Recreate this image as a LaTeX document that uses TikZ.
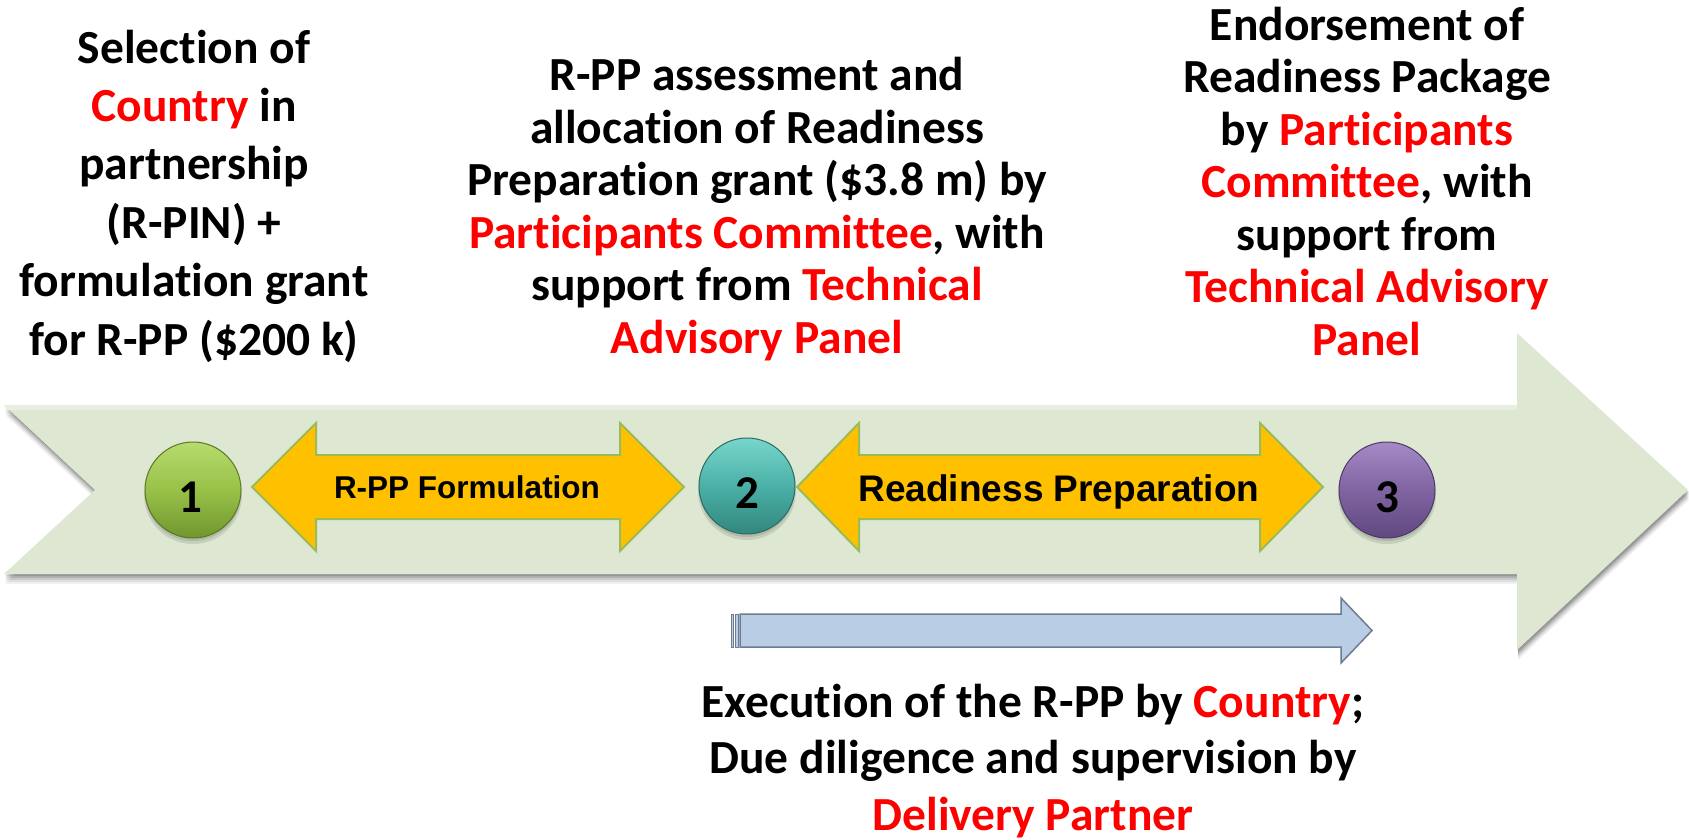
\documentclass[tikz,border=0pt]{standalone}
\usepackage{fontspec}
\setmainfont{Carlito}[Ligatures={CommonOff,ContextualOff,RareOff}]
\newfontfamily\arialfont{Liberation Sans}
\usetikzlibrary{calc}

\definecolor{bandfill}{RGB}{221,231,210}
\definecolor{bandtop}{RGB}{232,239,224}
\definecolor{phasefill}{RGB}{255,192,0}
\definecolor{phaseedge}{RGB}{155,187,89}
\definecolor{greenmid}{RGB}{152,193,72}
\definecolor{greenlight}{RGB}{182,219,110}
\definecolor{greendark}{RGB}{112,150,46}
\definecolor{tealmid}{RGB}{75,176,166}
\definecolor{teallight}{RGB}{120,214,204}
\definecolor{tealdark}{RGB}{50,135,126}
\definecolor{purplemid}{RGB}{128,100,162}
\definecolor{purplelight}{RGB}{165,138,200}
\definecolor{purpledark}{RGB}{96,72,128}
\definecolor{execfill}{RGB}{185,205,229}
\definecolor{execedge}{RGB}{110,124,145}
\definecolor{hilite}{RGB}{255,0,0}

\tikzset{
  blocktext/.style={anchor=base, align=center, inner sep=0pt, text=black,
    font=\bfseries\fontsize{47.5}{52.5}\selectfont},
  phaselabel/.style={anchor=base, inner sep=0pt, text=black},
  milestone/.style={circle, minimum size=96pt, inner sep=0pt, line width=1pt},
  milenum/.style={anchor=base, inner sep=0pt, text=black,
    font=\bfseries\fontsize{47}{50}\selectfont},
  phasearrow/.style={fill=phasefill, draw=phaseedge, line width=2pt, line join=miter},
}
\newcommand{\hl}[1]{\textcolor{hilite}{#1}}

\begin{document}
\begin{tikzpicture}[x=1pt,y=-1pt]
\useasboundingbox (0,0) rectangle (1689,839);
\fill[white] (0,0) rectangle (1689,839);

% soft shadow of the timeline band
\foreach \s/\o in {10/0.05,8/0.07,6/0.09,4/0.12,2/0.14}{
  \fill[black, opacity=\o, shift={(1,\s)}]
    (4,405) -- (1517,405) -- (1517,333) -- (1688,490) -- (1517,650)
    -- (1517,574) -- (4,574) -- (95,490) -- cycle;
}
% timeline band
\fill[bandfill]
  (4,405) -- (1517,405) -- (1517,333) -- (1688,490) -- (1517,650)
  -- (1517,574) -- (4,574) -- (95,490) -- cycle;
\fill[bandtop] (6,405) rectangle (1517,410);

% phase arrows
\path[phasearrow]
  (252,487) -- (316,423) -- (316,455) -- (620,455) -- (620,423) -- (684,487)
  -- (620,551) -- (620,519) -- (316,519) -- (316,551) -- cycle;
\path[phasearrow]
  (797,487) -- (859,423) -- (859,455) -- (1260,455) -- (1260,423) -- (1323,487)
  -- (1260,551) -- (1260,519) -- (859,519) -- (859,551) -- cycle;

\node[phaselabel, font=\arialfont\bfseries\fontsize{31.5}{36}\selectfont]
  (lab1) at (467,498) {R-PP Formulation};
\node[phaselabel, font=\arialfont\bfseries\fontsize{37}{42}\selectfont]
  (lab2) at (1059,501) {Readiness Preparation};

% milestone shadows
\foreach \cx/\cy in {193/490,747/486,1387/490}{
  \fill[black, opacity=0.10] (\cx,\cy+5) ellipse [x radius=49pt, y radius=49pt];
  \fill[black, opacity=0.10] (\cx,\cy+3) ellipse [x radius=48pt, y radius=48pt];
}

% milestones
\node[milestone, top color=greenlight, bottom color=greendark, middle color=greenmid,
      draw=greendark!80!black] (m1) at (193,490) {};
\node[milestone, top color=teallight, bottom color=tealdark, middle color=tealmid,
      draw=tealdark!80!black] (m2) at (747,486) {};
\node[milestone, top color=purplelight, bottom color=purpledark, middle color=purplemid,
      draw=purpledark!80!black] (m3) at (1387,490) {};

\node[milenum] (n1) at (190,512) {1};
\node[milenum] (n2) at (747,508) {2};
\node[milenum] (n3) at (1387,512) {3};

% execution arrow
\fill[execfill, draw=execedge, line width=1pt] (731,614) rectangle (733,647);
\fill[execfill, draw=execedge, line width=1pt] (735.5,614) rectangle (738,647);
\path[fill=execfill, draw=execedge, line width=1.5pt, line join=miter]
  (740,614) -- (1341,614) -- (1341,598) -- (1372,630.5) -- (1341,663)
  -- (1341,647) -- (740,647) -- cycle;

% texts (anchored at the baseline of their last line)
\node[blocktext, font=\bfseries\fontsize{47.5}{58.4}\selectfont] (t1) at (194,355)
  {Selection of\\ \hl{Country} in\\ partnership\\ (R-PIN) +\\ formulation grant\\ for R-PP (\$200 k)};
\node[blocktext] (t2) at (757,353)
  {R-PP assessment and\\ allocation of Readiness\\ Preparation grant (\$3.8 m) by\\
   \hl{Participants Committee}, with\\ support from \hl{Technical}\\ \hl{Advisory Panel}};
\node[blocktext] (t3) at (1367,355)
  {Endorsement of\\ Readiness Package\\ by \hl{Participants}\\ \hl{Committee}, with\\
   support from\\ \hl{Technical Advisory}\\ \hl{Panel}};
\node[blocktext, font=\bfseries\fontsize{47.5}{56.5}\selectfont] (t4) at (1033,830)
  {Execution of the R-PP by \hl{Country};\\ Due diligence and supervision by\\ \hl{Delivery Partner}};
\end{tikzpicture}
\end{document}
